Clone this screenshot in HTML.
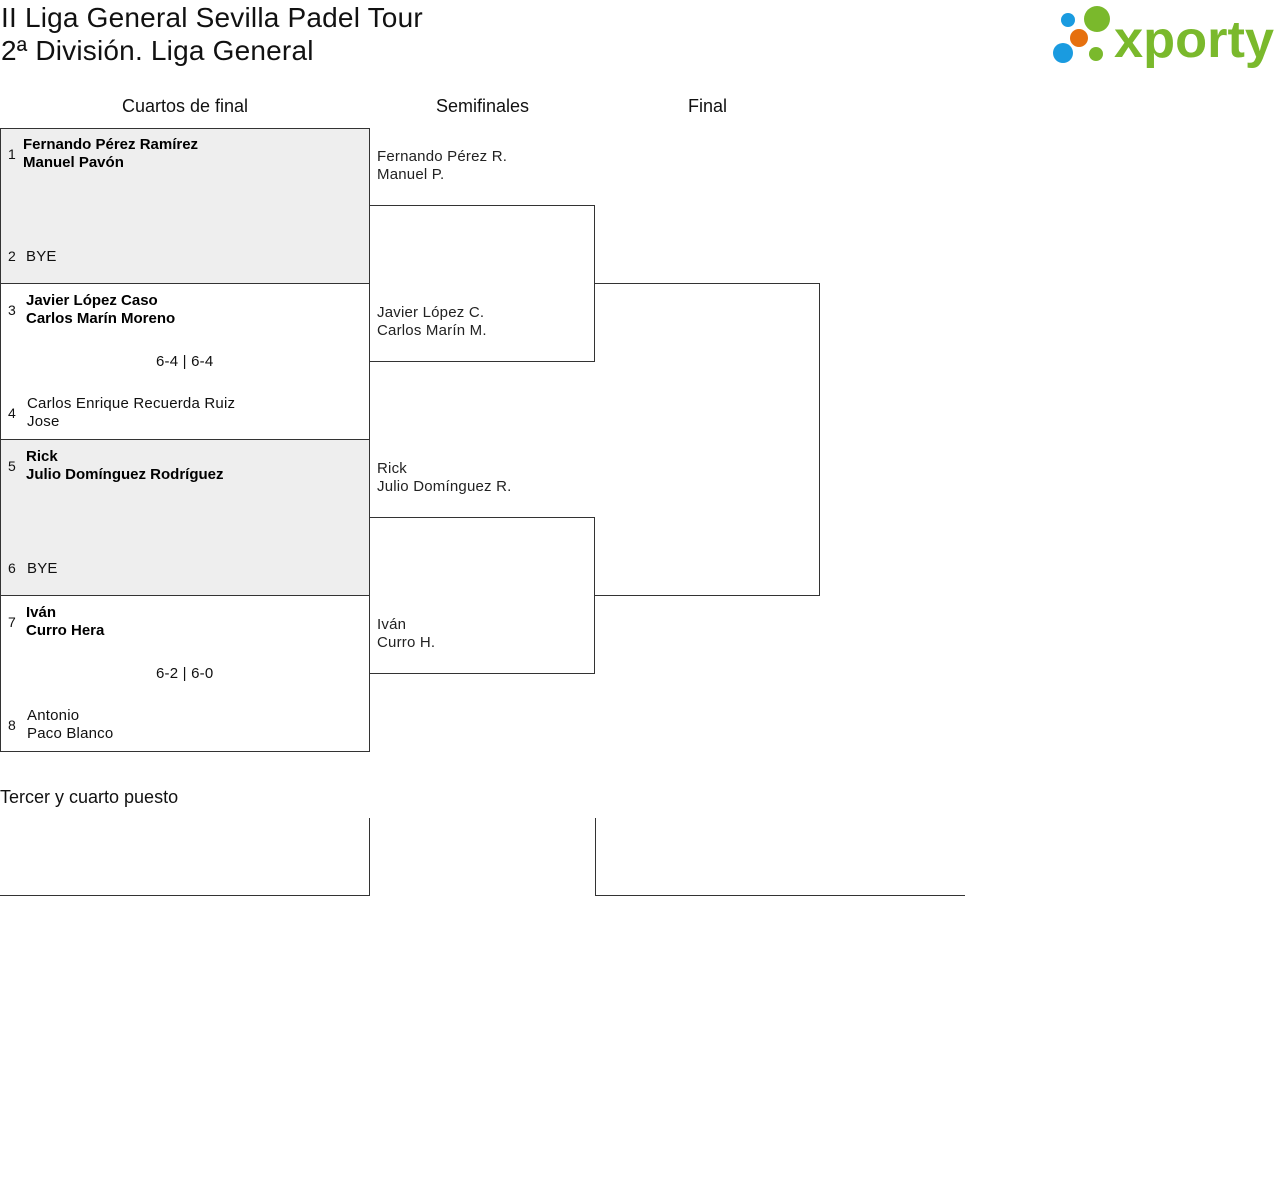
<!DOCTYPE html>
<html><head><meta charset="utf-8"><style>
body{margin:0;width:1280px;height:1192px;background:#fff;position:relative;font-family:"Liberation Sans",sans-serif;color:#111;overflow:hidden}
.a{position:absolute}
.t{font-size:28px;line-height:33px;left:1px;letter-spacing:0.2px}
.h{font-size:18px;text-align:center}
.qf{position:absolute;left:0;width:370px;height:156px;border:1px solid #333;border-bottom:none;box-sizing:border-box}
.g{background:#eee}
.n{position:absolute;font-size:15px;line-height:18px;letter-spacing:0.2px}
.b{color:#000;font-weight:bold;letter-spacing:0}
.num{position:absolute;left:8px;font-size:14px}
.ln{position:absolute;background:#333}
.s{font-size:15px;line-height:18px;color:#222;letter-spacing:0.2px}
</style></head><body>
<div class="a t" style="top:1px">II Liga General Sevilla Padel Tour</div>
<div class="a t" style="top:34px">2ª División. Liga General</div>
<svg class="a" style="left:1050px;top:4px" width="230" height="64">
<circle cx="18" cy="16" r="7" fill="#1a9be0"/>
<circle cx="47" cy="15" r="13" fill="#7ab92c"/>
<circle cx="29" cy="34" r="9" fill="#e6700f"/>
<circle cx="13" cy="49" r="10" fill="#1a9be0"/>
<circle cx="46" cy="50" r="7" fill="#7ab92c"/>
<text x="64" y="53" font-family="Liberation Sans" font-weight="bold" font-size="52" fill="#7ab92c" textLength="160" lengthAdjust="spacingAndGlyphs">xporty</text>
</svg>
<div class="a h" style="left:0;width:370px;top:96px">Cuartos de final</div>
<div class="a h" style="left:370px;width:225px;top:96px">Semifinales</div>
<div class="a h" style="left:595px;width:225px;top:96px">Final</div>

<div class="qf g" style="top:128px"></div>
<div class="qf" style="top:283px"></div>
<div class="qf g" style="top:439px"></div>
<div class="qf" style="top:595px;height:157px;border-bottom:1px solid #333"></div>

<div class="num" style="top:146px">1</div>
<div class="n b" style="left:23px;top:136px">Fernando Pérez Ramírez<br>Manuel Pavón</div>
<div class="num" style="top:248px">2</div>
<div class="n" style="left:26px;top:248px">BYE</div>

<div class="num" style="top:302px">3</div>
<div class="n b" style="left:26px;top:292px">Javier López Caso<br>Carlos Marín Moreno</div>
<div class="n" style="left:156px;top:353px">6-4 | 6-4</div>
<div class="num" style="top:405px">4</div>
<div class="n" style="left:27px;top:395px">Carlos Enrique Recuerda Ruiz<br>Jose</div>

<div class="num" style="top:458px">5</div>
<div class="n b" style="left:26px;top:448px">Rick<br>Julio Domínguez Rodríguez</div>
<div class="num" style="top:560px">6</div>
<div class="n" style="left:27px;top:560px">BYE</div>

<div class="num" style="top:614px">7</div>
<div class="n b" style="left:26px;top:604px">Iván<br>Curro Hera</div>
<div class="n" style="left:156px;top:665px">6-2 | 6-0</div>
<div class="num" style="top:717px">8</div>
<div class="n" style="left:27px;top:707px">Antonio<br>Paco Blanco</div>

<div class="ln" style="left:369px;top:205px;width:226px;height:1px"></div>
<div class="ln" style="left:594px;top:205px;width:1px;height:157px"></div>
<div class="ln" style="left:369px;top:361px;width:226px;height:1px"></div>
<div class="ln" style="left:369px;top:517px;width:226px;height:1px"></div>
<div class="ln" style="left:594px;top:517px;width:1px;height:157px"></div>
<div class="ln" style="left:369px;top:673px;width:226px;height:1px"></div>
<div class="ln" style="left:594px;top:283px;width:226px;height:1px"></div>
<div class="ln" style="left:819px;top:283px;width:1px;height:313px"></div>
<div class="ln" style="left:594px;top:595px;width:226px;height:1px"></div>

<div class="a s" style="left:377px;top:148px">Fernando Pérez R.<br>Manuel P.</div>
<div class="a s" style="left:377px;top:304px">Javier López C.<br>Carlos Marín M.</div>
<div class="a s" style="left:377px;top:460px">Rick<br>Julio Domínguez R.</div>
<div class="a s" style="left:377px;top:616px">Iván<br>Curro H.</div>

<div class="a" style="left:0;top:787px;font-size:18px">Tercer y cuarto puesto</div>
<div class="ln" style="left:369px;top:818px;width:1px;height:78px"></div>
<div class="ln" style="left:0;top:895px;width:370px;height:1px"></div>
<div class="ln" style="left:595px;top:818px;width:1px;height:78px"></div>
<div class="ln" style="left:595px;top:895px;width:370px;height:1px"></div>
</body></html>
